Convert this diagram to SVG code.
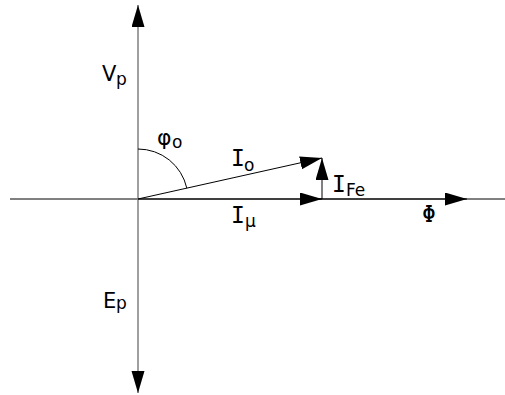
<svg xmlns="http://www.w3.org/2000/svg" width="505" height="395" viewBox="0 0 505 395">
  <defs>
    <marker id="ah" markerUnits="userSpaceOnUse" markerWidth="24" markerHeight="14" refX="22" refY="6.5" orient="auto" viewBox="0 0 24 14">
      <path d="M0,0 L22,6.5 L0,13 Z" fill="#000"/>
    </marker>
  </defs>
  <style>
    .main { font-family: "DejaVu Sans", sans-serif; font-size: 21px; fill: #000; }
    .phi { font-family: "DejaVu Sans", sans-serif; font-size: 22px; fill: #000; }
    .mono { font-family: "DejaVu Sans Mono", monospace; font-size: 23px; fill: #000; }
    .sub { font-family: "DejaVu Sans", sans-serif; font-size: 17px; fill: #000; }
    .axis { stroke: #000; stroke-width: 1; fill: none; }
    .gaxis { stroke: #7f7f7f; stroke-width: 1.5; fill: none; }
    .vec { stroke: #000; stroke-width: 1; fill: none; marker-end: url(#ah); }
  </style>
  <rect width="505" height="395" fill="#fff"/>
  <g id="connectors">
    <line class="axis" x1="10" y1="199" x2="505" y2="199"/>
    <line class="gaxis" x1="138" y1="199" x2="138" y2="5" marker-end="url(#ah)"/>
    <line class="gaxis" x1="138" y1="199" x2="138" y2="393" marker-end="url(#ah)"/>
    <line class="vec" x1="138" y1="199" x2="322" y2="199"/>
    <line class="vec" x1="300" y1="199" x2="467" y2="199"/>
    <line class="vec" x1="138" y1="199" x2="322" y2="158"/>
    <line class="vec" x1="322" y1="199" x2="322" y2="158"/>
    <path d="M138,149 A50,50 0 0 1 186.8,188.1" stroke="#000" stroke-width="1" fill="none"/>
  </g>
  <g id="label-vp"><text class="main" x="102" y="81">V</text><text class="sub" x="116" y="85">p</text></g>
  <g id="label-phi0"><text class="phi" x="157" y="145">φ</text><text class="sub" x="172" y="148">o</text></g>
  <g id="label-io"><text class="mono" x="231" y="166">I</text><text class="sub" x="244" y="171">o</text></g>
  <g id="label-imu"><text class="mono" x="231" y="223">I</text><text class="sub" x="245" y="227">μ</text></g>
  <g id="label-ife"><text class="mono" x="332" y="192">I</text><text class="sub" x="346" y="196">Fe</text></g>
  <g id="label-flux"><text class="mono" x="429" y="222" text-anchor="middle">Φ</text></g>
  <g id="label-ep"><text class="main" x="103" y="308">E</text><text class="sub" x="116" y="309">p</text></g>
</svg>
